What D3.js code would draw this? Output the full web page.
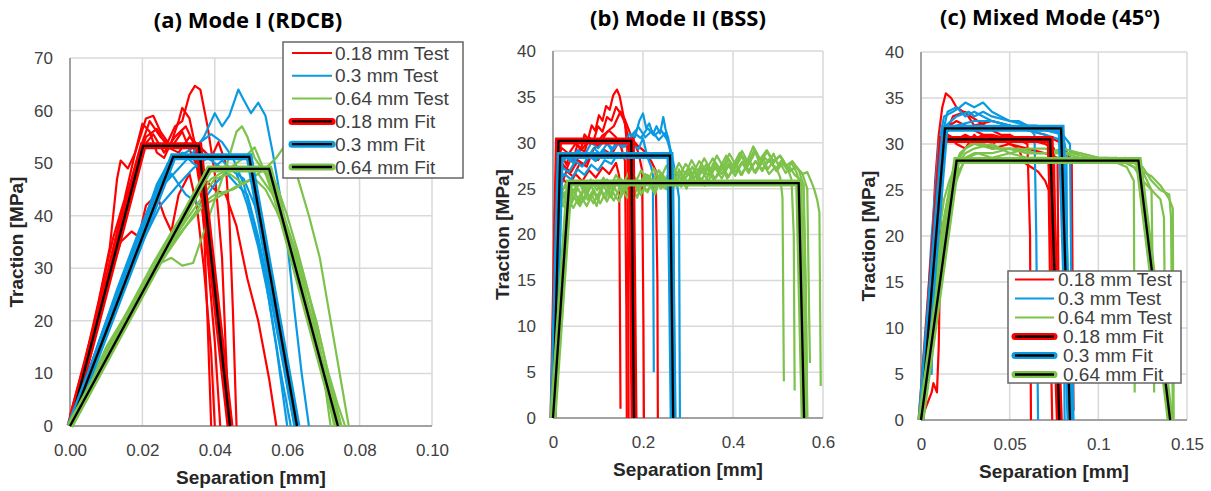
<!DOCTYPE html>
<html>
<head>
<meta charset="utf-8">
<script src="https://cdn.jsdelivr.net/npm/d3@7"></script>
<style>
body { margin: 0; background: #fff; }
svg text { font-family: "Liberation Sans", Arial, sans-serif; }
</style>
</head>
<body>
<script>
// ---- labels ----
var legendLabels = ["0.18 mm Test", "0.3 mm Test", "0.64 mm Test", "0.18 mm Fit", "0.3 mm Fit", "0.64 mm Fit"];
var panelTitles = ["(a) Mode I (RDCB)", "(b) Mode II (BSS)", "(c) Mixed Mode (45"];
var xTitle = "Separation [mm]",
    yTitle = "Traction [MPa]";

// ---- tick values ----
var modeIxTicks = [0, 0.02, 0.04, 0.06, 0.08, 0.10],
    modeIyTicks = [0, 10, 20, 30, 40, 50, 60, 70];
var modeIIxTicks = [0, 0.2, 0.4, 0.6],
    modeIIyTicks = [0, 5, 10, 15, 20, 25, 30, 35, 40];
var mixedxTicks = [0, 0.05, 0.1, 0.15],
    mixedyTicks = [0, 5, 10, 15, 20, 25, 30, 35, 40];

// ---- (a) Mode I test curves [separation mm, traction MPa] ----
var modeITest018 = [
    [[0,2],[0.004,12],[0.008,24],[0.011,34],[0.013,47],[0.014,50.5],[0.016,49],[0.018,52],[0.02,57.5],[0.022,56],[0.024,52],[0.026,51],[0.028,54],[0.03,58],[0.031,60.5],[0.033,58.5],[0.035,52],[0.037,38],[0.038,20],[0.039,0]],
    [[0,1],[0.005,14],[0.009,27],[0.012,36],[0.015,43],[0.018,52],[0.021,58.5],[0.023,59],[0.025,56],[0.027,54],[0.029,57],[0.031,58],[0.033,63],[0.0345,64.7],[0.036,64],[0.038,57],[0.04,48],[0.042,32],[0.043,15],[0.044,0]],
    [[0,0],[0.006,16],[0.01,28],[0.014,40],[0.018,49],[0.021,55],[0.024,56.5],[0.027,53],[0.03,52],[0.033,55],[0.036,53],[0.039,51],[0.041,54],[0.043,50],[0.044,40],[0.045,22],[0.046,0]],
    [[0,0],[0.006,17],[0.011,31],[0.015,42],[0.019,52],[0.022,58],[0.025,55],[0.028,53],[0.031,56],[0.034,51],[0.037,47],[0.04,45],[0.043,44],[0.046,38],[0.049,28],[0.052,20],[0.055,9],[0.057,0]],
    [[0,0],[0.007,20],[0.012,33],[0.016,44],[0.02,53],[0.023,55.5],[0.026,52],[0.029,55],[0.032,57],[0.034,54],[0.036,45],[0.038,32],[0.04,16],[0.0415,0]],
    [[0,0],[0.005,13],[0.01,26],[0.014,35],[0.017,37],[0.019,36],[0.021,42],[0.024,44],[0.026,40],[0.028,37],[0.03,44],[0.033,48],[0.035,42],[0.037,30],[0.039,14],[0.04,0]]
];
var modeITest03 = [
    [[0,0],[0.006,10],[0.012,21],[0.018,32],[0.022,40],[0.026,46],[0.03,49],[0.034,52],[0.037,55],[0.04,59.5],[0.042,57],[0.044,59],[0.0465,64],[0.048,62],[0.05,59.5],[0.052,61.5],[0.054,59],[0.056,52],[0.058,44],[0.06,35],[0.062,22],[0.064,10],[0.066,0]],
    [[0,0],[0.008,16],[0.015,29],[0.02,38],[0.024,46],[0.028,51],[0.032,52],[0.036,54],[0.039,55.5],[0.042,54],[0.045,51],[0.048,46],[0.051,38],[0.054,28],[0.057,15],[0.06,0]],
    [[0,0],[0.008,14],[0.014,25],[0.02,35],[0.025,42],[0.03,46],[0.034,49],[0.038,51],[0.042,49],[0.046,46],[0.049,44],[0.052,36],[0.055,26],[0.058,15],[0.062,0]],
    [[0,0],[0.009,18],[0.016,31],[0.022,42],[0.027,50],[0.031,52],[0.034,50],[0.038,48],[0.042,50.5],[0.046,48],[0.049,42],[0.052,34],[0.055,24],[0.058,11],[0.061,0]],
    [[0,0],[0.007,14],[0.013,26],[0.019,37],[0.024,45],[0.028,48],[0.032,44],[0.036,42],[0.04,46],[0.044,49],[0.048,47],[0.051,42],[0.054,34],[0.057,24],[0.06,12],[0.063,0]]
];
var modeITest064 = [
    [[0,0],[0.008,11],[0.014,18],[0.02,26],[0.025,31],[0.028,32],[0.031,30.5],[0.034,31],[0.037,37],[0.04,43],[0.043,49],[0.046,56],[0.0475,57],[0.049,55],[0.051,51],[0.054,48],[0.057,46],[0.06,40],[0.063,33],[0.066,25],[0.069,15],[0.072,0]],
    [[0,0],[0.01,13],[0.018,22],[0.025,31],[0.031,37],[0.036,42],[0.04,44],[0.045,45],[0.05,47],[0.054,49],[0.057,51],[0.0595,53.5],[0.061,52],[0.063,47],[0.066,40],[0.069,32],[0.071,24],[0.073,16],[0.075,8],[0.077,0]],
    [[0,0],[0.009,13],[0.016,22],[0.023,31],[0.029,38],[0.034,43],[0.039,47],[0.044,49],[0.048,51],[0.051,53],[0.054,48],[0.057,42],[0.06,37],[0.064,29],[0.068,20],[0.072,8],[0.075,0]],
    [[0,0],[0.011,15],[0.019,25],[0.026,33],[0.032,38],[0.037,42],[0.042,44],[0.047,46],[0.051,47],[0.054,45],[0.057,41],[0.06,36],[0.064,28],[0.067,20],[0.07,10],[0.073,0]],
    [[0,0],[0.01,15],[0.017,23],[0.024,31],[0.03,37],[0.035,42],[0.04,47],[0.044,48],[0.048,46],[0.052,48],[0.056,44],[0.06,38],[0.064,30],[0.068,20],[0.071,11],[0.074,4],[0.076,0]]
];
var modeIFit018 = [[0,0],[0.0202,53.3],[0.0356,53.3],[0.0442,0]],
    modeIFit03 = [[0,0],[0.0285,51.2],[0.0495,51.2],[0.0627,0]],
    modeIFit064 = [[0,0],[0.0385,48.9],[0.055,48.9],[0.074,0]];

// ---- (b) Mode II test curves ----
var modeIITest018 = [
    [[0,0],[0.003,14],[0.005,24],[0.008,27.5],[0.015,26.8],[0.022,28.4],[0.03,27.6],[0.038,29],[0.046,28.2],[0.054,29.8],[0.062,29.2],[0.07,30.9],[0.078,30.4],[0.086,31.9],[0.094,31.3],[0.102,33],[0.11,32.4],[0.118,34],[0.126,33.6],[0.134,35.2],[0.142,35.8],[0.148,35.1],[0.154,33.6],[0.16,32.1],[0.165,29.5],[0.167,14],[0.168,0]],
    [[0,0],[0.003,12],[0.006,25],[0.012,26.5],[0.02,27.8],[0.03,27.1],[0.04,28.3],[0.05,27.6],[0.06,29.4],[0.07,29],[0.08,30.6],[0.09,30.2],[0.1,31.8],[0.11,31.2],[0.12,32.8],[0.13,32.4],[0.14,33.9],[0.15,33.2],[0.158,32.4],[0.165,31],[0.172,29.6],[0.178,28.2],[0.181,12],[0.183,0]],
    [[0,0],[0.004,18],[0.008,26],[0.02,25.6],[0.03,26.9],[0.045,26.3],[0.06,27.8],[0.075,27.4],[0.09,29.3],[0.105,29.9],[0.12,31.2],[0.135,31.8],[0.15,33.4],[0.16,32.5],[0.17,31.2],[0.18,30.1],[0.19,28.9],[0.198,27],[0.201,10],[0.202,0]],
    [[0,0],[0.004,20],[0.008,25],[0.02,26.2],[0.035,25.3],[0.05,26.6],[0.065,25.8],[0.08,27],[0.095,26.2],[0.11,27.3],[0.125,26.6],[0.14,27.8],[0.147,26.4],[0.149,10],[0.15,1]],
    [[0,0],[0.005,21],[0.01,26.5],[0.025,27.4],[0.04,26.8],[0.055,28.1],[0.07,27.6],[0.085,28.6],[0.1,28.1],[0.115,29.2],[0.13,28.7],[0.145,30],[0.16,29.6],[0.175,30.4],[0.19,29.6],[0.205,29],[0.218,28],[0.228,27],[0.232,15],[0.233,0]],
    [[0,0],[0.004,22],[0.008,28.5],[0.02,29.4],[0.035,28.8],[0.05,29.9],[0.065,29.3],[0.08,30.3],[0.095,29.7],[0.11,30.8],[0.125,31.3],[0.14,30.6],[0.152,29.4],[0.16,28],[0.163,12],[0.164,0]]
];
var modeIITest03 = [
    [[0,0],[0.005,16],[0.009,26],[0.02,27.3],[0.035,26.8],[0.05,28],[0.065,27.4],[0.08,28.6],[0.095,28],[0.11,29.2],[0.125,28.7],[0.14,30],[0.155,29.5],[0.17,31],[0.182,30.6],[0.192,32.4],[0.2,33.2],[0.207,31.6],[0.214,32.1],[0.222,30.9],[0.23,31.8],[0.238,31],[0.245,32.8],[0.25,31.5],[0.256,30.5],[0.262,29],[0.264,12],[0.265,0]],
    [[0,0],[0.006,18],[0.012,25.5],[0.025,26.6],[0.04,26],[0.055,27.1],[0.07,26.5],[0.085,27.6],[0.1,27],[0.115,28.1],[0.13,27.7],[0.145,28.9],[0.16,28.4],[0.175,29.8],[0.19,29.3],[0.2,30.5],[0.21,28.4],[0.218,27.4],[0.222,26.5],[0.224,5]],
    [[0,0],[0.005,20],[0.012,27.5],[0.03,28.4],[0.045,27.8],[0.06,28.9],[0.075,28.2],[0.09,29.4],[0.105,28.8],[0.12,29.9],[0.135,29.3],[0.15,30.4],[0.165,29.9],[0.18,31.1],[0.195,30.5],[0.21,31.6],[0.225,30.8],[0.24,31.4],[0.255,30.2],[0.265,28.5],[0.274,26],[0.28,24],[0.282,0]],
    [[0,0],[0.004,21],[0.01,27],[0.025,28.6],[0.04,28],[0.055,29.2],[0.07,28.6],[0.085,30],[0.1,29.4],[0.115,30.3],[0.13,29.2],[0.145,30.1],[0.16,29.6],[0.175,30.8],[0.19,31.7],[0.205,30.6],[0.22,31.3],[0.235,30.3],[0.25,31.1],[0.26,29.2],[0.267,27],[0.269,10],[0.27,0]]
];
// green curves kept as separate separation / traction lists
var modeIITest064 = [
    {x: [0,0.008,0.015,0.03,0.045,0.06,0.075,0.09,0.105,0.12,0.135,0.15,0.165,0.18,0.195,0.21,0.225,0.24,0.255,0.27,0.285,0.3,0.315,0.33,0.345,0.36,0.375,0.39,0.405,0.42,0.435,0.45,0.465,0.48,0.495,0.505,0.51,0.513],
     y: [0,20,23.5,22.8,24.2,23.1,24.6,23.4,24.8,23.6,25.2,24,25.4,24.3,25.8,24.6,26.1,25,26.4,25.2,26.8,25.5,27,25.9,27.3,26.1,27.5,26.3,27.8,26.5,28,26.7,27.9,26.6,27.4,26.2,24,4]},
    {x: [0,0.006,0.012,0.025,0.04,0.055,0.07,0.085,0.1,0.115,0.13,0.145,0.16,0.175,0.19,0.205,0.22,0.235,0.25,0.265,0.28,0.295,0.31,0.325,0.34,0.355,0.37,0.385,0.4,0.415,0.43,0.445,0.46,0.475,0.49,0.505,0.52,0.53,0.535,0.537],
     y: [0,14,23,24.6,23.4,25,23.8,25.3,24,25.6,24.4,26,24.8,26.3,25.2,26.6,25.6,27,26,27.4,26.3,27.7,26.6,28,27,28.3,27.2,28.6,27.5,28.9,27.8,29.6,28.2,29.2,28,28.6,27.4,26,20,3]},
    {x: [0,0.007,0.014,0.028,0.042,0.056,0.07,0.084,0.098,0.112,0.126,0.14,0.154,0.168,0.182,0.196,0.21,0.224,0.238,0.252,0.266,0.28,0.294,0.308,0.322,0.336,0.35,0.364,0.378,0.392,0.406,0.42,0.434,0.448,0.462,0.476,0.49,0.504,0.518,0.532,0.546,0.556,0.562,0.565],
     y: [0,16,24.2,25.5,24.3,25.8,24.6,26,24.8,26.2,25,26.5,25.3,26.7,25.5,27,25.8,27.2,26,27.5,26.3,27.8,26.6,28.1,26.9,28.3,27.1,28.6,27.4,28.8,27.6,29.1,27.8,29.3,28,29,27.8,28.6,27.5,28,27,25.5,12,0]},
    {x: [0,0.008,0.016,0.03,0.045,0.06,0.075,0.09,0.105,0.12,0.135,0.15,0.165,0.18,0.195,0.21,0.225,0.24,0.255,0.27,0.285,0.3,0.315,0.33,0.345,0.36,0.375,0.39,0.405,0.42,0.435,0.45,0.465,0.48,0.495,0.51,0.525,0.54,0.555,0.565,0.569,0.571],
     y: [0,18,22.8,24.1,22.9,24.3,23.1,24.6,23.4,24.9,23.7,25.2,24,25.5,24.3,25.8,24.6,26.1,24.9,26.4,25.2,26.7,25.5,27,25.8,27.3,26.1,27.5,26.4,27.8,26.7,28,26.9,28.2,27,27.8,26.8,27.4,26.5,25,12,6]},
    {x: [0,0.008,0.016,0.03,0.045,0.06,0.075,0.09,0.105,0.12,0.135,0.15,0.165,0.18,0.195,0.21,0.225,0.24,0.255,0.27,0.285,0.3,0.315,0.33,0.345,0.36,0.375,0.39,0.405,0.42,0.435,0.45,0.465,0.48,0.495,0.51,0.525,0.54,0.555,0.565,0.572,0.58,0.587,0.592,0.595],
     y: [0,19,24.5,25.4,24.5,25.6,24.7,25.8,24.9,26,25.1,26.1,25.2,26.3,25.4,26.5,25.6,26.7,25.8,26.9,26,27.1,26.2,27.3,26.4,27.5,26.6,27.7,26.8,27.9,27,28,27.1,28.1,27.2,27.8,26.9,27.4,26.6,26.8,26,25,23.8,22.4,3.5]},
    {x: [0,0.005,0.01,0.02,0.03,0.04,0.05,0.06,0.07,0.08,0.09,0.1,0.11,0.12,0.13,0.14,0.15,0.16,0.17,0.18,0.19,0.2,0.21,0.22,0.23,0.24,0.25,0.26,0.27,0.28,0.29,0.3,0.31,0.32,0.33,0.34,0.35,0.36,0.37,0.38,0.39,0.4,0.41,0.42,0.43,0.44,0.45,0.46,0.47,0.48,0.49,0.5,0.51,0.52,0.53,0.54,0.55,0.553,0.555],
     y: [0,15,23.6,24.8,23.2,25.1,24.4,23.5,25.3,24.1,24.9,23.7,25.6,24.6,24.0,25.9,24.8,25.3,24.2,26.1,25.0,24.6,26.4,25.5,25.0,26.7,25.4,26.2,25.6,27.1,25.9,26.5,27.4,26.1,26.8,27.6,26.4,27.9,26.9,27.3,28.2,26.8,27.7,28.6,27.2,28.1,29.0,27.5,28.4,27.9,28.8,27.6,28.2,27.1,27.8,26.9,25.5,12,0]},
    {x: [0,0.006,0.012,0.017,0.027,0.037,0.047,0.057,0.067,0.077,0.087,0.097,0.107,0.117,0.127,0.137,0.147,0.157,0.167,0.177,0.187,0.197,0.207,0.217,0.227,0.237,0.247,0.257,0.267,0.277,0.287,0.297,0.307,0.317,0.327,0.337,0.347,0.357,0.367,0.377,0.387,0.397,0.407,0.417,0.427,0.437,0.447,0.457,0.467,0.477,0.487,0.497,0.507,0.517,0.527,0.537,0.547,0.557,0.562,0.565],
     y: [0,17,22.9,23.4,24.6,22.9,24.1,23.3,25.0,23.8,24.3,23.1,24.9,23.9,25.2,24.3,23.6,25.4,24.5,25.0,24.0,25.7,24.7,25.3,24.4,26.0,25.1,24.8,26.3,25.3,25.9,25.0,26.6,25.6,26.2,25.3,26.9,25.9,26.5,27.3,26.1,26.8,27.6,26.5,27.2,28.1,26.8,27.5,28.4,27.1,27.8,26.9,27.6,26.7,27.3,26.5,26.1,25.4,14,0]}
];
var modeIIFit018 = [[0,0],[0.012,30.2],[0.174,30.2],[0.18,0]],
    modeIIFit03 = [[0,0],[0.016,28.6],[0.26,28.6],[0.267,0]],
    modeIIFit064 = [[0,0],[0.036,25.6],[0.546,25.6],[0.558,0]];

// ---- (c) Mixed mode test curves ----
var mixedTest018 = [
    [[0,0],[0.003,8],[0.006,18],[0.008,26],[0.01,31],[0.012,34],[0.014,35.5],[0.017,35],[0.02,34],[0.024,33.5],[0.028,33],[0.032,32.5],[0.036,32],[0.04,31.5],[0.045,31],[0.05,31],[0.055,30.5],[0.06,30],[0.0615,20],[0.062,0]],
    [[0,0],[0.004,10],[0.007,20],[0.009,27],[0.011,30],[0.015,31],[0.02,30.5],[0.025,31],[0.03,30.5],[0.035,31],[0.04,30],[0.045,30.5],[0.05,30],[0.055,29.5],[0.058,28],[0.062,27.5],[0.066,27],[0.07,26],[0.072,25],[0.0735,5],[0.074,0]],
    [[0,0],[0.005,12],[0.008,22],[0.01,28],[0.012,30.5],[0.016,32],[0.02,32.5],[0.025,32],[0.03,31.5],[0.035,31],[0.04,31],[0.05,30.5],[0.06,30.5],[0.07,30],[0.075,29.5],[0.076,10],[0.077,0]],
    [[0,0],[0.006,3],[0.007,4],[0.009,3],[0.01,8],[0.011,20],[0.012,29],[0.015,31],[0.02,30],[0.025,29.5],[0.03,31],[0.035,30],[0.04,29.5],[0.05,30],[0.06,29.5],[0.07,29],[0.077,28.5],[0.078,0]],
    [[0,0],[0.004,8],[0.006,15],[0.009,25],[0.012,30],[0.018,33],[0.025,33.5],[0.03,32],[0.04,32.5],[0.05,32],[0.06,31.5],[0.07,31],[0.08,30],[0.085,28],[0.086,1]]
];
var mixedTest03 = [
    [[0,0],[0.003,5],[0.005,15],[0.008,25],[0.01,30],[0.013,33],[0.018,33.5],[0.022,34],[0.025,34.5],[0.03,34],[0.035,34.5],[0.04,33.5],[0.045,33],[0.05,32.5],[0.055,32.5],[0.06,32],[0.065,32],[0.07,31.5],[0.075,31.5],[0.08,31],[0.082,29],[0.083,0]],
    [[0,0],[0.004,5],[0.006,5],[0.007,14],[0.009,24],[0.011,30],[0.014,32],[0.02,33],[0.027,33.5],[0.03,33],[0.035,33.5],[0.04,33],[0.05,32.5],[0.06,32],[0.064,31],[0.065,20],[0.066,0]],
    [[0,0],[0.005,12],[0.008,22],[0.01,28],[0.012,31],[0.015,33.5],[0.02,34],[0.025,33],[0.03,33.5],[0.035,33],[0.04,32.5],[0.05,32],[0.06,31.5],[0.07,31.5],[0.08,31],[0.084,30],[0.085,10],[0.086,0]],
    [[0,0],[0.003,10],[0.006,20],[0.009,27],[0.011,30],[0.015,31.5],[0.02,32],[0.03,32.5],[0.04,32.5],[0.05,32],[0.06,31.5],[0.07,31],[0.078,30.5],[0.08,29],[0.081,0]]
];
var mixedTest064 = [
    [[0,0],[0.003,3],[0.005,8],[0.008,15],[0.01,20],[0.013,24],[0.016,26],[0.02,28],[0.025,29.5],[0.03,30],[0.04,29.5],[0.05,29.5],[0.06,29],[0.07,29],[0.08,29],[0.09,28.5],[0.1,28],[0.11,28],[0.116,27.5],[0.12,26],[0.1205,3]],
    [[0,0],[0.004,5],[0.007,12],[0.01,18],[0.014,23],[0.018,27],[0.022,29],[0.028,30],[0.035,30],[0.045,29.5],[0.055,29.5],[0.065,29],[0.075,29],[0.085,29],[0.095,28.5],[0.105,28.5],[0.115,28],[0.125,27],[0.13,25],[0.1315,3]],
    [[0,0],[0.003,4],[0.006,10],[0.009,16],[0.012,21],[0.016,25],[0.02,27.5],[0.025,29],[0.03,29.5],[0.04,30],[0.05,29],[0.06,29.5],[0.07,29.5],[0.08,29],[0.09,29],[0.1,28.5],[0.11,28.5],[0.12,27.5],[0.125,26],[0.13,25],[0.135,24],[0.137,22],[0.138,3]],
    [[0,0],[0.004,6],[0.008,13],[0.012,20],[0.016,24],[0.02,26],[0.025,28.5],[0.03,29],[0.04,29],[0.05,29.5],[0.06,29],[0.07,29],[0.08,29.5],[0.09,29],[0.1,28.5],[0.11,28],[0.115,28.5],[0.12,28],[0.125,27],[0.13,26.5],[0.135,25.5],[0.14,24],[0.142,23],[0.1425,0]],
    [[0,0],[0.005,7],[0.009,14],[0.013,20],[0.017,24],[0.021,27],[0.026,28.5],[0.032,29],[0.04,28.5],[0.05,29],[0.06,28.5],[0.07,28.5],[0.08,28.5],[0.09,28],[0.1,28],[0.11,28.5],[0.12,28],[0.125,27.5],[0.13,26],[0.135,25],[0.14,24.5],[0.141,22],[0.142,0]]
];
var mixedFit018 = [[0,0],[0.012,30.5],[0.0728,30.5],[0.078,0]],
    mixedFit03 = [[0,0],[0.0135,31.7],[0.079,31.7],[0.084,0]],
    mixedFit064 = [[0,0],[0.0201,28.2],[0.1226,28.2],[0.1405,0]];

// ---- styling ----
var colors = ["#ff0000", "#0a9ae2", "#7cc24b"];
var gridColor = "#d9d9d9", axisColor = "#8c8c8c", tickColor = "#404040", titleColor = "#262626";

var svg = d3.select("body").append("svg")
    .attr("width", 1211)
    .attr("height", 491);

// turn {x:[], y:[]} into point pairs
function toPairs(c) {
    return Array.isArray(c) ? c : d3.zip(c.x, c.y);
}

var panels = [
    {
        title: panelTitles[0], titleX: 248, titleY: 28,
        box: {left: 70, right: 432, top: 58, bottom: 426},
        xDomain: [0, 0.10], yDomain: [0, 70],
        xTicks: modeIxTicks, yTicks: modeIyTicks, xFormat: d3.format(".2f"),
        tests: [modeITest018, modeITest03, modeITest064],
        fits: [modeIFit018, modeIFit03, modeIFit064],
        yTitleX: 16,
        legend: {x: 283, y: 42, w: 180, h: 136, rowY: 53, rowStep: 22.8, lineX0: 292, lineX1: 332, textX: 335, fitShift: 0}
    },
    {
        title: panelTitles[1], titleX: 678, titleY: 26,
        box: {left: 553, right: 823, top: 51, bottom: 418},
        xDomain: [0, 0.6], yDomain: [0, 40],
        xTicks: modeIIxTicks, yTicks: modeIIyTicks, xFormat: d3.format("~g"),
        tests: [modeIITest018, modeIITest03, modeIITest064],
        fits: [modeIIFit018, modeIIFit03, modeIIFit064],
        yTitleX: 502,
        legend: null
    },
    {
        title: panelTitles[2], titleX: 1050, titleY: 25,
        box: {left: 921, right: 1187, top: 52, bottom: 420},
        xDomain: [0, 0.15], yDomain: [0, 40],
        xTicks: mixedxTicks, yTicks: mixedyTicks, xFormat: d3.format("~g"),
        tests: [mixedTest018, mixedTest03, mixedTest064],
        fits: [mixedFit018, mixedFit03, mixedFit064],
        yTitleX: 868,
        legend: {x: 1008, y: 271, w: 173, h: 112, rowY: 279.5, rowStep: 19, lineX0: 1015, lineX1: 1054, textX: 1058, fitShift: 5}
    }
];

panels.forEach(drawPanel);

function drawPanel(p, i) {
    var b = p.box;
    var x = d3.scaleLinear().domain(p.xDomain).range([b.left, b.right]);
    var y = d3.scaleLinear().domain(p.yDomain).range([b.bottom, b.top]);
    var g = svg.append("g").attr("class", "panel");

    // Grid
    g.append("g").selectAll("line").data(p.xTicks).enter().append("line")
        .attr("x1", function(d) { return x(d); })
        .attr("x2", function(d) { return x(d); })
        .attr("y1", b.top).attr("y2", b.bottom)
        .attr("stroke", gridColor).attr("stroke-width", 1.5);
    g.append("g").selectAll("line").data(p.yTicks).enter().append("line")
        .attr("y1", function(d) { return y(d); })
        .attr("y2", function(d) { return y(d); })
        .attr("x1", b.left).attr("x2", b.right)
        .attr("stroke", gridColor).attr("stroke-width", 1.5);

    // Tick labels through d3 axes, domain lines drawn by hand
    var xAxis = g.append("g")
        .attr("transform", "translate(0," + b.bottom + ")")
        .call(d3.axisBottom(x).tickValues(p.xTicks).tickFormat(p.xFormat).tickSize(0).tickPadding(18));
    var yAxis = g.append("g")
        .attr("transform", "translate(" + b.left + ",0)")
        .call(d3.axisLeft(y).tickValues(p.yTicks).tickSize(0).tickPadding(17));
    [xAxis, yAxis].forEach(function(a) {
        a.select(".domain").remove();
        a.selectAll("text")
            .style("font-family", '"Liberation Sans", Arial, sans-serif')
            .style("font-size", "17px")
            .attr("fill", tickColor);
    });

    g.append("line")
        .attr("x1", b.left).attr("x2", b.left).attr("y1", b.top).attr("y2", b.bottom)
        .attr("stroke", axisColor).attr("stroke-width", 1.5);
    g.append("line")
        .attr("x1", b.left).attr("x2", b.right).attr("y1", b.bottom).attr("y2", b.bottom)
        .attr("stroke", axisColor).attr("stroke-width", 1.5);

    var line = d3.line()
        .x(function(d) { return x(d[0]); })
        .y(function(d) { return y(d[1]); });

    // Test curves
    p.tests.forEach(function(group, k) {
        g.append("g").selectAll("path").data(group).enter().append("path")
            .attr("d", function(c) { return line(toPairs(c)); })
            .attr("fill", "none")
            .attr("stroke", colors[k])
            .attr("stroke-width", 2.2)
            .attr("stroke-linejoin", "round");
    });

    // Fits: thick coloured line with a black core
    p.fits.forEach(function(f, k) {
        g.append("path").attr("d", line(f))
            .attr("fill", "none").attr("stroke", colors[k]).attr("stroke-width", 7);
        g.append("path").attr("d", line(f))
            .attr("fill", "none").attr("stroke", "#000").attr("stroke-width", 2.3);
    });

    // Titles
    var t = svg.append("text")
        .attr("x", p.titleX).attr("y", p.titleY)
        .attr("text-anchor", "middle")
        .style("font-family", '"Open Sans", sans-serif')
        .style("font-weight", 700)
        .style("font-size", "22px")
        .attr("fill", "#000")
        .text(p.title);
    if (i === 2) {
        t.append("tspan").attr("dy", -8).style("font-size", "13px").text("o");
        t.append("tspan").attr("dy", 8).text(")");
    }

    svg.append("text")
        .attr("x", (b.left + b.right) / 2).attr("y", b.bottom + 58)
        .attr("text-anchor", "middle")
        .style("font-weight", 700).style("font-size", "19px")
        .attr("fill", titleColor)
        .text(xTitle);
    svg.append("text")
        .attr("transform", "translate(" + p.yTitleX + "," + ((b.top + b.bottom) / 2) + ") rotate(-90)")
        .attr("text-anchor", "middle")
        .attr("dy", "0.35em")
        .style("font-weight", 700).style("font-size", "19px")
        .attr("fill", titleColor)
        .text(yTitle);

    if (p.legend) drawLegend(p.legend);
}

function drawLegend(L) {
    var lg = svg.append("g").attr("class", "legend");
    lg.append("rect")
        .attr("x", L.x).attr("y", L.y).attr("width", L.w).attr("height", L.h)
        .attr("fill", "#fff").attr("stroke", "#666").attr("stroke-width", 1.5);

    legendLabels.forEach(function(label, r) {
        var cy = L.rowY + r * L.rowStep;
        var isFit = r >= 3;
        var col = colors[r % 3];
        if (isFit) {
            lg.append("line")
                .attr("x1", L.lineX0).attr("x2", L.lineX1).attr("y1", cy).attr("y2", cy)
                .attr("stroke", col).attr("stroke-width", 7).attr("stroke-linecap", "round");
            lg.append("line")
                .attr("x1", L.lineX0).attr("x2", L.lineX1).attr("y1", cy).attr("y2", cy)
                .attr("stroke", "#000").attr("stroke-width", 2.3);
        } else {
            lg.append("line")
                .attr("x1", L.lineX0).attr("x2", L.lineX1).attr("y1", cy).attr("y2", cy)
                .attr("stroke", col).attr("stroke-width", 2);
        }
        lg.append("text")
            .attr("x", L.textX + (isFit ? L.fitShift : 0)).attr("y", cy)
            .attr("dy", "0.35em")
            .style("font-size", "19px")
            .attr("fill", tickColor)
            .text(label);
    });
}
</script>
</body>
</html>
